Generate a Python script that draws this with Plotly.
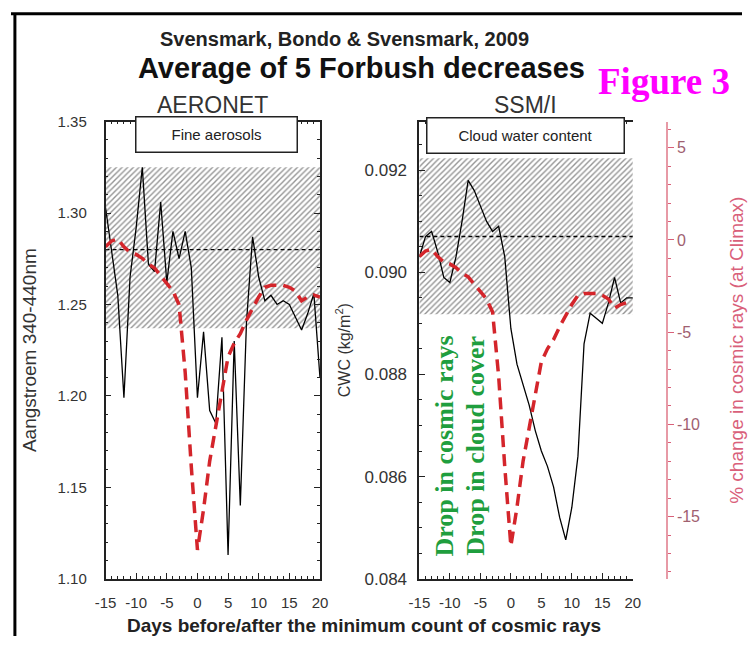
import plotly.graph_objects as go

# ---------------- data ----------------
days = list(range(-15, 21))

# AERONET fine aerosol Angstrom exponent (340-440 nm)
angstrom = [1.303, 1.280, 1.255, 1.199, 1.265, 1.292, 1.325, 1.272, 1.268, 1.306,
            1.262, 1.290, 1.275, 1.290, 1.270, 1.199, 1.235, 1.192, 1.185, 1.232,
            1.113, 1.230, 1.140, 1.240, 1.287, 1.265, 1.252, 1.255, 1.250, 1.252,
            1.250, 1.243, 1.236, 1.245, 1.256, 1.210]

# SSM/I cloud water content (kg/m^2)
cwc = [0.0903, 0.0907, 0.0908, 0.0904, 0.0899, 0.0898, 0.0903, 0.0910, 0.0918, 0.0916,
       0.0913, 0.0910, 0.0908, 0.0909, 0.0903, 0.0889, 0.0882, 0.0878, 0.0874, 0.0869,
       0.0865, 0.0862, 0.0858, 0.0852, 0.08476, 0.0854, 0.0864, 0.0886, 0.0892, 0.0891,
       0.0890, 0.0894, 0.0899, 0.0894, 0.0895, 0.0895]

# % change in cosmic rays (Climax)
cosmic = [-0.9, -0.6, -0.5, -0.9, -1.2, -1.3, -1.5, -1.8, -2.0, -2.4,
          -2.8, -3.2, -3.9, -7.4, -12.3, -16.6, -14.5, -12.0, -10.2, -8.3,
          -6.6, -5.9, -5.4, -4.7, -4.1, -3.5, -3.0, -2.9, -2.9, -2.9,
          -3.0, -3.2, -3.7, -3.5, -3.4, -3.5]

# reference mean and +/- band
aer_mean, aer_lo, aer_hi = 1.28, 1.237, 1.325
cwc_mean, cwc_lo, cwc_hi = 0.0907, 0.08918, 0.09223

x_ticks = [-15, -10, -5, 0, 5, 10, 15, 20]
aer_ticks = [1.10, 1.15, 1.20, 1.25, 1.30, 1.35]
cwc_ticks = [0.084, 0.086, 0.088, 0.090, 0.092]
cr_ticks = [-15, -10, -5, 0, 5]

# ---------------- layout helpers ----------------
W, H = 750, 646
def px(x):
    return x / W
def py(y):
    return 1 - y / H

LX = [px(97), px(317)]
RX = [px(419), px(638)]
YD = [py(587), py(116)]

SANS = "Liberation Sans, Arial, sans-serif"
SERIF = "Liberation Serif, Times New Roman, serif"
RED = "#d4252b"
PINK = "#d9607a"
GREEN = "#1f9e3e"

fig = go.Figure()

hatch = dict(shape="/", fgcolor="#2a2a2a", bgcolor="white", size=4, solidity=0.35)

# left panel
fig.add_trace(go.Scatter(x=[days[0], days[-1], days[-1], days[0], days[0]],
                         y=[aer_lo, aer_lo, aer_hi, aer_hi, aer_lo],
                         mode="lines", line=dict(width=0), fill="toself",
                         fillpattern=hatch, fillcolor="rgba(0,0,0,0)",
                         xaxis="x", yaxis="y", hoverinfo="skip", showlegend=False))
fig.add_trace(go.Scatter(x=[days[0], days[-1]], y=[aer_mean, aer_mean], mode="lines",
                         line=dict(color="black", width=1.3, dash="4px,3px"),
                         xaxis="x", yaxis="y", showlegend=False))
fig.add_trace(go.Scatter(x=days, y=angstrom, mode="lines",
                         line=dict(color="black", width=1.3),
                         xaxis="x", yaxis="y", showlegend=False))
fig.add_trace(go.Scatter(x=days, y=cosmic, mode="lines",
                         line=dict(color=RED, width=3.5, dash="12px,7px"),
                         xaxis="x", yaxis="y2", showlegend=False))

# right panel
fig.add_trace(go.Scatter(x=[days[0], days[-1], days[-1], days[0], days[0]],
                         y=[cwc_lo, cwc_lo, cwc_hi, cwc_hi, cwc_lo],
                         mode="lines", line=dict(width=0), fill="toself",
                         fillpattern=hatch, fillcolor="rgba(0,0,0,0)",
                         xaxis="x2", yaxis="y3", hoverinfo="skip", showlegend=False))
fig.add_trace(go.Scatter(x=[days[0], days[-1]], y=[cwc_mean, cwc_mean], mode="lines",
                         line=dict(color="black", width=1.3, dash="4px,3px"),
                         xaxis="x2", yaxis="y3", showlegend=False))
fig.add_trace(go.Scatter(x=days, y=cwc, mode="lines",
                         line=dict(color="black", width=1.3),
                         xaxis="x2", yaxis="y3", showlegend=False))
fig.add_trace(go.Scatter(x=days, y=cosmic, mode="lines",
                         line=dict(color=RED, width=3.5, dash="12px,7px"),
                         xaxis="x2", yaxis="y4", showlegend=False))

tickfont = dict(family=SANS, size=15, color="#333")
xcommon = dict(range=[-15, 20], tickvals=x_ticks, ticktext=[str(v) for v in x_ticks],
               ticks="inside", ticklen=6, tickcolor="#222", showline=True,
               linecolor="#222", linewidth=1.5, mirror="ticks", showgrid=False,
               zeroline=False, tickfont=tickfont, ticklabelstandoff=10,
               minor=dict(dtick=1, tick0=0, ticks="inside", ticklen=3, tickcolor="#222"))

fig.update_layout(
    width=W, height=H, margin=dict(l=0, r=0, t=0, b=0),
    paper_bgcolor="white", plot_bgcolor="white", showlegend=False,
    xaxis=dict(domain=LX, anchor="y", **xcommon),
    yaxis=dict(domain=YD, anchor="x", range=[1.10, 1.35], tickvals=aer_ticks,
               tickformat=".2f", ticks="inside", ticklen=6, tickcolor="#222",
               showline=True, linecolor="#222", linewidth=1.5, mirror="ticks",
               showgrid=False, zeroline=False, tickfont=tickfont, ticklabelstandoff=14,
               minor=dict(dtick=0.01, ticks="inside", ticklen=3, tickcolor="#222"),
               title=dict(text="Aangstroem 340-440nm", standoff=16,
                          font=dict(family=SANS, size=19, color="#333"))),
    yaxis2=dict(overlaying="y", anchor="x", range=[-18.09, 5.58], visible=False),
    xaxis2=dict(domain=RX, anchor="y3", **xcommon),
    yaxis3=dict(domain=YD, anchor="x2", range=[0.084, 0.09295], tickvals=cwc_ticks,
                tickformat=".3f", ticks="inside", ticklen=6, tickcolor="#222",
                showline=True, linecolor="#222", linewidth=1.8, mirror=False,
                showgrid=False, zeroline=False, ticklabelstandoff=7,
                tickfont=dict(family=SANS, size=17, color="#333"),
                minor=dict(dtick=0.0005, ticks="inside", ticklen=3, tickcolor="#222"),
                title=dict(text="CWC (kg/m<sup>2</sup>)", standoff=10,
                           font=dict(family=SANS, size=16, color="#333"))),
    yaxis4=dict(overlaying="y3", anchor="free", position=px(673), side="right",
                range=[-18.37, 6.42], tickvals=cr_ticks,
                ticktext=[str(v) for v in cr_ticks], ticks="outside", ticklen=6,
                tickcolor=PINK, showline=True, linecolor="#e79aa6", linewidth=1.5,
                showgrid=False, zeroline=False,
                tickfont=dict(family=SANS, size=16, color="#a06070"),
                minor=dict(dtick=1, ticks="outside", ticklen=3, tickcolor=PINK),
                title=dict(text="% change in cosmic rays (at Climax)", standoff=30,
                           font=dict(family=SANS, size=19, color=PINK))),
    yaxis5=dict(overlaying="y3", anchor="x2", side="right", range=[0.084, 0.09295],
                tickvals=cwc_ticks, ticks="inside", ticklen=6, tickcolor="#222",
                showticklabels=False, showline=False, showgrid=False, zeroline=False,
                minor=dict(dtick=0.0005, ticks="inside", ticklen=3, tickcolor="#222")),
)

ann = []
def text(x, y, s, size, color="#222", family=SANS, bold=False, angle=0, **kw):
    if bold:
        s = "<b>" + s + "</b>"
    ann.append(dict(x=px(x), y=py(y), xref="paper", yref="paper", text=s,
                    showarrow=False, xanchor="center", yanchor="middle",
                    textangle=angle, font=dict(family=family, size=size, color=color), **kw))

text(342, 31, "Svensmark, Bondo &amp; Svensmark, 2009", 20, bold=True)
text(360, 61, "Average of 5 Forbush decreases", 29, color="#111", bold=True)
text(670, 75, "Figure 3", 37, color="#ff00ff", family=SERIF, bold=True)
text(207, 99, "AERONET", 23, color="#333")
text(528, 99, "SSM/I", 23, color="#333")
text(211, 129, "Fine aerosols", 15, color="#222", bgcolor="white",
     bordercolor="#222", borderwidth=1.5, borderpad=2, width=156, height=30)
text(528, 130, "Cloud water content", 15, color="#222", bgcolor="white",
     bordercolor="#222", borderwidth=1.5, borderpad=2, width=192, height=30)
text(362, 635, "Days before/after the minimum count of cosmic rays", 19, bold=True)
text(445, 450, "Drop in cosmic rays", 26, color=GREEN, family=SERIF, bold=True, angle=-90)
text(477, 450, "Drop in cloud cover", 26, color=GREEN, family=SERIF, bold=True, angle=-90)
fig.update_layout(annotations=ann)

# page frame (top and left edge)
fig.add_shape(type="line", xref="paper", yref="paper", x0=0, x1=1, y0=py(5), y1=py(5),
              line=dict(color="black", width=3))
fig.add_shape(type="line", xref="paper", yref="paper", x0=px(4), x1=px(4), y0=0, y1=py(5),
              line=dict(color="black", width=3))

fig.write_html("out.html")
